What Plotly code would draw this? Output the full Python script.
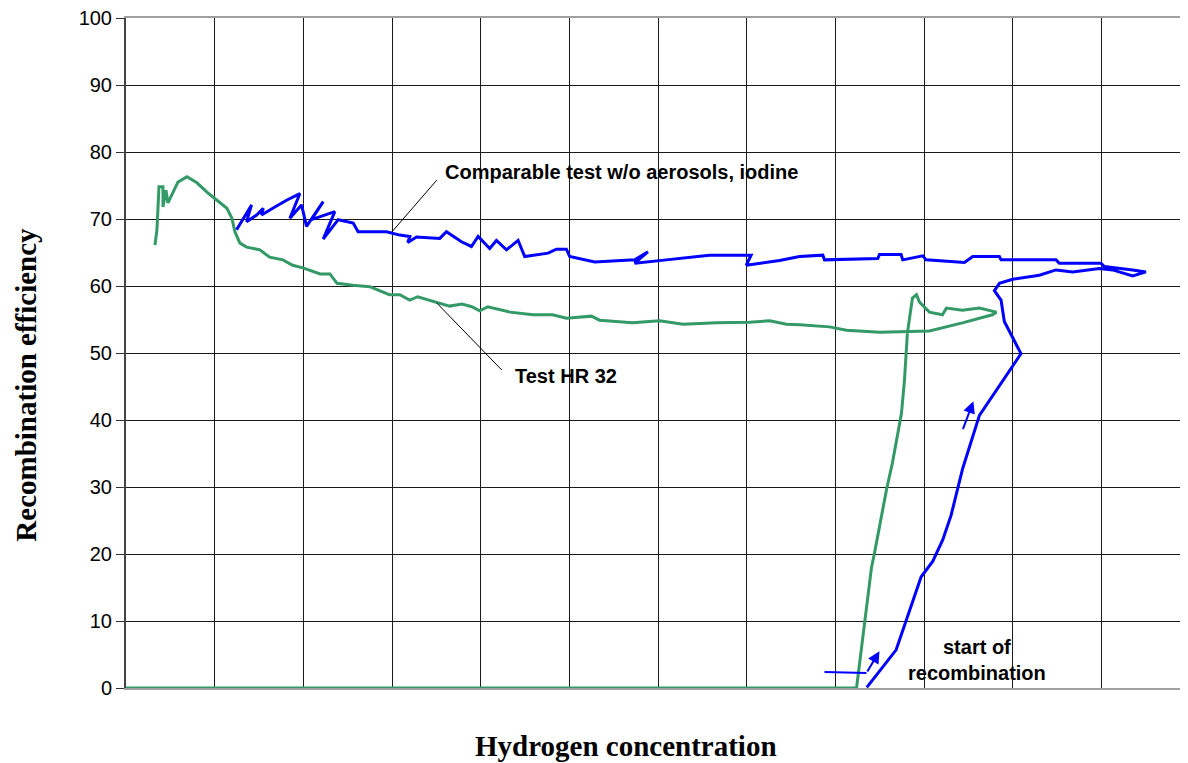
import plotly.graph_objects as go

# Hydrogen concentration in grid units (no tick labels on the original), efficiency in %
green_x = [0.0, 8.239, 8.408, 8.441, 8.577, 8.644, 8.746, 8.780, 8.813, 8.870, 8.915, 8.949,
           9.061, 9.208, 9.253, 9.433, 9.625, 9.816, 9.771, 9.433, 9.061, 8.498, 8.126, 7.934,
           7.60, 7.45, 7.26, 7.03, 6.66, 6.28, 6.018, 5.71, 5.34, 5.25, 4.97, 4.81, 4.59, 4.33,
           4.08, 3.99, 3.90, 3.79, 3.65, 3.505, 3.43, 3.29, 3.20, 3.088, 2.97, 2.75, 2.56, 2.38,
           2.30, 2.19, 1.995, 1.88, 1.77, 1.62, 1.51, 1.36, 1.285, 1.228, 1.195, 1.138, 1.026,
           0.913, 0.800, 0.687, 0.586, 0.530, 0.473, 0.451, 0.417, 0.417, 0.372, 0.349, 0.327]
green_y = [0.0, 0.0, 18.0, 20.1, 29.6, 33.6, 41.0, 46.0, 53.0, 58.2, 58.7, 57.6,
           56.1, 55.7, 56.7, 56.4, 56.7, 56.1, 55.7, 54.5, 53.3, 53.1, 53.4, 53.9,
           54.2, 54.3, 54.8, 54.6, 54.5, 54.3, 54.8, 54.5, 54.9, 55.5, 55.2, 55.7, 55.7, 56.1,
           56.9, 56.3, 56.9, 57.3, 57.0, 57.6, 57.9, 58.4, 57.9, 58.7, 58.7, 59.9, 60.1, 60.4,
           61.8, 61.8, 62.7, 63.1, 63.9, 64.3, 65.4, 65.8, 66.4, 68.1, 70.1, 71.6, 72.8,
           74.0, 75.4, 76.3, 75.5, 73.9, 72.4, 74.3, 71.8, 74.8, 74.8, 68.4, 66.1]

blue_x = [1.247, 1.416, 1.360, 1.473, 1.548, 1.529, 1.679, 1.811, 1.961, 1.848, 1.980, 2.036,
          2.224, 2.092, 2.355, 2.224, 2.393, 2.562, 2.618, 2.938, 3.088, 3.201, 3.178, 3.276,
          3.539, 3.614, 3.783, 3.896, 3.971, 4.102, 4.178, 4.291, 4.422, 4.497, 4.760, 4.854,
          4.967, 5.004, 5.286, 5.737, 5.886, 5.737, 6.094, 6.582, 7.05, 6.995, 7.371, 7.596,
          7.859, 7.878, 8.479, 8.498, 8.742, 8.760, 8.986, 9.024, 9.456, 9.550, 9.850, 9.869,
          10.489, 10.526, 10.996, 11.034, 11.353, 11.503, 11.353, 11.127, 10.977, 10.677,
          10.489, 10.301, 10.0, 9.850, 9.794, 9.869, 9.906, 10.094, 9.625, 9.437, 9.306,
          9.211, 9.098, 8.968, 8.686, 8.355]
blue_y = [68.4, 72.1, 69.6, 70.6, 71.6, 70.6, 71.8, 72.8, 73.8, 70.1, 72.1, 68.9,
          72.6, 69.9, 71.1, 67.0, 69.9, 69.4, 68.1, 68.1, 67.6, 67.4, 66.5, 67.3,
          67.1, 68.1, 66.6, 65.9, 67.4, 65.6, 66.8, 65.4, 66.8, 64.4, 64.9, 65.5,
          65.5, 64.4, 63.6, 63.9, 65.1, 63.4, 63.9, 64.6, 64.6, 63.1, 63.8, 64.4,
          64.6, 63.9, 64.1, 64.7, 64.7, 63.9, 64.5, 63.9, 63.5, 64.4, 64.4, 63.9,
          63.9, 63.4, 63.4, 62.9, 62.4, 62.1, 61.5, 62.4, 62.6, 62.1,
          62.4, 61.6, 61.0, 60.4, 59.3, 57.9, 54.7, 49.9, 40.7, 32.8, 25.8,
          22.1, 18.9, 16.6, 5.7, 0.1]

y_ticks = [0, 10, 20, 30, 40, 50, 60, 70, 80, 90, 100]
x_grid = list(range(0, 13))

GREEN = "#339966"
BLUE = "#0000FF"

fig = go.Figure()
fig.add_trace(go.Scatter(x=green_x, y=green_y, mode="lines",
                         line=dict(color=GREEN, width=3), showlegend=False, hoverinfo="skip"))
fig.add_trace(go.Scatter(x=blue_x, y=blue_y, mode="lines",
                         line=dict(color=BLUE, width=3), showlegend=False, hoverinfo="skip"))

ann_font = dict(family="Liberation Sans, Arial, sans-serif", size=20, color="black")
title_font = dict(family="Liberation Serif, Times New Roman, serif", size=29, color="black")

annotations = [
    dict(x=3.573, y=77.0, xref="x", yref="y", text="<b>Comparable test w/o aerosols, iodine</b>",
         showarrow=False, xanchor="left", yanchor="middle", font=ann_font),
    dict(x=4.965, y=46.6, xref="x", yref="y", text="<b>Test HR 32</b>",
         showarrow=False, xanchor="center", yanchor="middle", font=ann_font),
    dict(x=9.60, y=4.25, xref="x", yref="y", text="<b>start of<br>recombination</b>",
         showarrow=False, xanchor="center", yanchor="middle", font=ann_font),
    # arrows
    dict(x=8.498, y=5.5, ax=8.351, ay=2.24, xref="x", yref="y", axref="x", ayref="y",
         text="", showarrow=True, arrowhead=2, arrowsize=1.2, arrowwidth=2, arrowcolor=BLUE,
         standoff=0, startstandoff=0),
    dict(x=9.557, y=42.8, ax=9.433, ay=38.4, xref="x", yref="y", axref="x", ayref="y",
         text="", showarrow=True, arrowhead=2, arrowsize=1.2, arrowwidth=2, arrowcolor=BLUE,
         standoff=0, startstandoff=0),
    # axis titles
    dict(x=-0.0935, y=0.452, xref="paper", yref="paper", text="<b>Recombination efficiency</b>",
         textangle=-90, showarrow=False, xanchor="center", yanchor="middle", font=title_font),
    dict(x=0.4699, y=-0.0866, xref="paper", yref="paper", text="<b>Hydrogen concentration</b>",
         showarrow=False, xanchor="center", yanchor="middle", font=title_font),
]

shapes = [
    # leader lines
    dict(type="line", x0=3.505, y0=75.8, x1=2.998, y1=68.06, xref="x", yref="y",
         line=dict(color="black", width=1)),
    dict(type="line", x0=3.505, y0=57.46, x1=4.238, y1=47.46, xref="x", yref="y",
         line=dict(color="black", width=1)),
    # horizontal part of the start-of-recombination pointer
    dict(type="line", x0=7.878, y0=2.39, x1=8.351, y1=2.24, xref="x", yref="y",
         line=dict(color=BLUE, width=2)),
]

# page body has an 8px margin: compensate so the plot area lands at x 126..1190, y 18..688
fig.update_layout(
    width=1188, height=763, autosize=False,
    margin=dict(l=118, r=6, t=10, b=83, pad=0, autoexpand=False),
    paper_bgcolor="white", plot_bgcolor="white",
    annotations=annotations, shapes=shapes,
    xaxis=dict(range=[0, 12], tickmode="array", tickvals=x_grid, showticklabels=False,
               ticks="", showgrid=True, gridcolor="#1a1a1a", gridwidth=1, zeroline=False,
               showline=True, linecolor="#a0a0a0", linewidth=2, mirror=True, fixedrange=True,
               automargin=False),
    yaxis=dict(range=[0, 100], tickmode="array", tickvals=y_ticks,
               ticktext=[str(v) for v in y_ticks], ticks="outside", ticklen=8,
               tickcolor="#333", tickwidth=1, showgrid=True, gridcolor="#1a1a1a", gridwidth=1,
               zeroline=False, showline=True, linecolor="#444", linewidth=2,
               ticklabeloverflow="allow", automargin=False,
               tickfont=dict(family="Liberation Sans, Arial, sans-serif", size=20, color="black"),
               fixedrange=True),
)

fig.write_html("out.html")
